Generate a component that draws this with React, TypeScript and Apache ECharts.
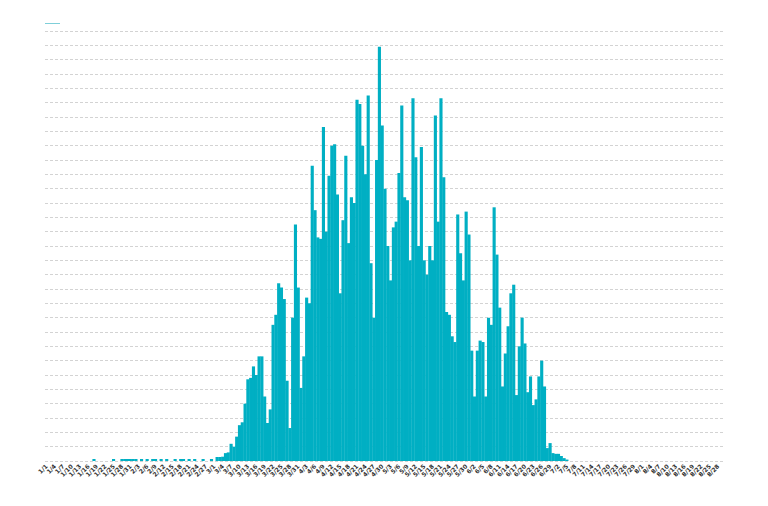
import React, { useEffect, useRef } from "react";
import * as echarts from "echarts";

const START_DATE = "2020-01-01";
const DAY_COUNT = 243;

const values: number[] = [
  0, 0, 0, 0, 0, 0, 0, 0, 0, 0,
  0, 0, 0, 0, 0, 0, 0, 0.14, 0, 0,
  0, 0, 0, 0, 0.14, 0, 0, 0.14, 0.14, 0.14,
  0.14, 0.14, 0.14, 0, 0.14, 0, 0.14, 0, 0.14, 0.14,
  0, 0.14, 0, 0.14, 0, 0, 0.14, 0, 0.14, 0.14,
  0, 0.14, 0, 0.14, 0, 0, 0.14, 0, 0, 0.14,
  0, 0.28, 0.28, 0.3, 0.55, 0.6, 1.2, 1.0, 1.7, 2.5,
  2.7, 4.0, 5.7, 5.8, 6.6, 6.0, 7.3, 7.3, 4.5, 2.65,
  3.6, 9.5, 10.2, 12.4, 12.1, 11.3, 5.6, 2.3, 10, 16.5,
  12.1, 5.1, 7.3, 11.4, 11.0, 20.6, 17.5, 15.6, 15.5, 23.3,
  16, 19.9, 22, 22.1, 18.6, 11.7, 16.8, 21.3, 15.2, 18.4,
  18, 25.2, 24.9, 22, 20, 25.5, 13.8, 10, 21, 28.9,
  23.4, 19, 15, 12.6, 16.3, 16.7, 20.1, 24.8, 18.4, 18.2,
  14, 25.3, 21.2, 15, 21.9, 14, 13, 15, 14, 24.1,
  16.7, 25.3, 19.8, 10.4, 10.2, 8.7, 8.3, 17.2, 14.5, 12.6,
  17.4, 15.8, 7.7, 4.5, 7.7, 8.4, 8.3, 4.5, 10, 9.5,
  17.7, 14.4, 10.7, 5.2, 7.5, 9.4, 11.7, 12.3, 4.6, 8,
  10, 8.2, 4.8, 5.9, 3.9, 4.3, 5.9, 7, 5.2, 0.9,
  1.25, 0.55, 0.5, 0.5, 0.35, 0.2, 0.1, 0, 0, 0,
  0, 0, 0, 0, 0, 0, 0, 0, 0, 0,
  0, 0, 0, 0, 0, 0, 0, 0, 0, 0,
  0, 0, 0, 0, 0, 0, 0, 0, 0, 0,
  0, 0, 0, 0, 0, 0, 0, 0, 0, 0,
  0, 0, 0, 0, 0, 0, 0, 0, 0, 0,
  0, 0, 0,
];

function buildCategories(): string[] {
  const out: string[] = [];
  const d0 = new Date(START_DATE + "T00:00:00Z");
  for (let i = 0; i < DAY_COUNT; i++) {
    const d = new Date(d0.getTime() + i * 86400000);
    out.push(`${d.getUTCMonth() + 1}/${d.getUTCDate()}`);
  }
  return out;
}

const categories = buildCategories();

export default function App() {
  const ref = useRef<HTMLDivElement>(null);
  useEffect(() => {
    if (!ref.current) return;
    const chart = echarts.init(ref.current, undefined, { renderer: "svg" });
    chart.setOption({
      animation: false,
      backgroundColor: "#ffffff",
      grid: { left: 45, right: 43, top: 31, bottom: 45, containLabel: false },
      graphic: [
        {
          type: "rect",
          left: 45,
          top: 23,
          shape: { width: 15, height: 1 },
          style: { fill: "#7fcfd9" },
        },
      ],
      xAxis: {
        type: "category",
        data: categories,
        axisLine: { show: false },
        axisTick: { show: false },
        axisLabel: {
          interval: 2,
          rotate: 45,
          fontSize: 6,
          fontWeight: "bold",
          color: "#333",
          margin: 4,
          fontFamily: "DejaVu Sans",
        },
      },
      yAxis: {
        type: "value",
        min: 0,
        max: 30,
        interval: 1,
        axisLabel: { show: false },
        axisLine: { show: false },
        axisTick: { show: false },
        splitLine: {
          show: true,
          lineStyle: { type: [3, 2], color: "#d3d3d3", width: 1 },
        },
      },
      series: [
        {
          type: "bar",
          name: "daily",
          data: values.map((v) => (v > 0 ? v : "-")),
          barWidth: "112%",
          itemStyle: { color: "#00afc3" },
        },
      ],
    });
    return () => chart.dispose();
  }, []);
  return (
    <div
      ref={ref}
      style={{ position: "absolute", left: 0, top: 0, width: 768, height: 506 }}
    />
  );
}
